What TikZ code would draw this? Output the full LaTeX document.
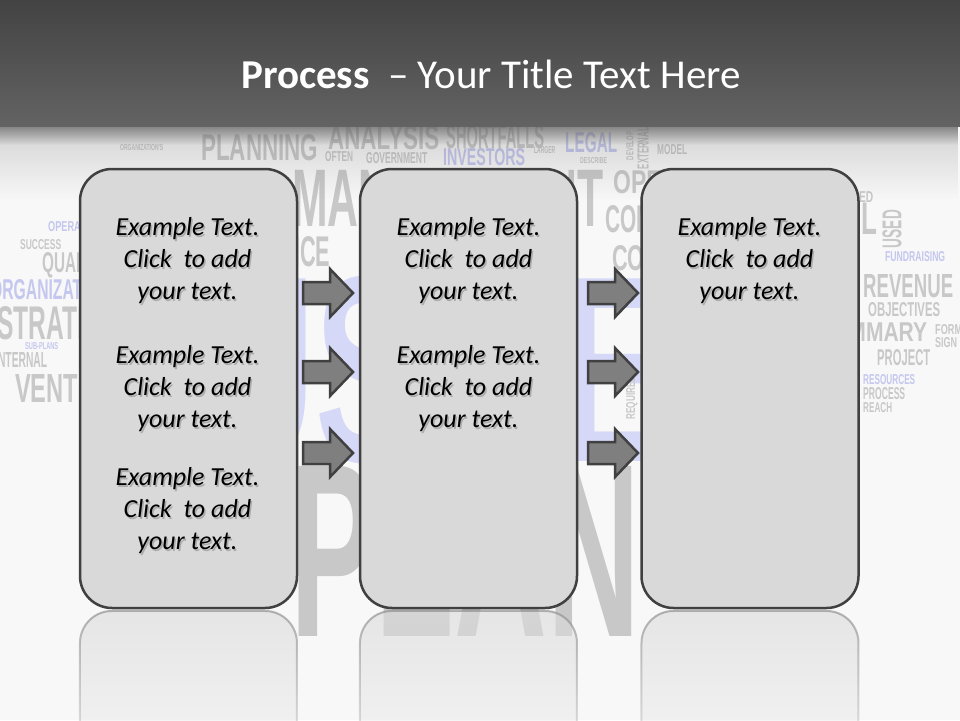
\documentclass[tikz,border=0pt]{standalone}
\usepackage{fontspec}
\setmainfont{Carlito}
\newfontfamily\cloudfont{Liberation Sans}
\usepackage{graphicx}
\usetikzlibrary{fadings}

\definecolor{hdtop}{HTML}{434343}
\definecolor{hdbot}{HTML}{636363}
\definecolor{pagebg}{HTML}{F8F8F8}
\definecolor{boxfill}{HTML}{D9D9D9}
\definecolor{boxline}{HTML}{404040}
\definecolor{arrowfill}{HTML}{7F7F7F}
\definecolor{mirrorfill}{HTML}{DCDCDC}
\definecolor{mirrorline}{HTML}{8C8C8C}
\definecolor{cloudgray}{HTML}{C8C8C8}
\definecolor{cloudblue}{HTML}{C4C7EE}
\definecolor{bigblue}{HTML}{D5D8F6}

\tikzfading[name=hdfade, top color=transparent!0, bottom color=transparent!100]
\tikzfading[name=mirrorfade, top color=transparent!35, bottom color=transparent!100]

\tikzset{
  procbox/.style={draw=boxline, line width=2.5pt, fill=boxfill, rounded corners=32pt,
    minimum width=217pt, minimum height=439pt, inner sep=0pt},
  mirrorbox/.style={draw=mirrorline, line width=2pt, fill=mirrorfill, rounded corners=32pt,
    path fading=mirrorfade},
  procarrow/.style={draw=boxline, line width=2.5pt, fill=arrowfill, line join=miter},
  boxtxt/.style={font=\fontsize{26}{32}\selectfont\itshape, align=center, inner sep=0pt},
  cloud/.style={font=\cloudfont\bfseries, inner sep=0pt, anchor=west},
}

\newcommand\sampletext{Example Text.\\Click\ \ to add\\your text.}

\begin{document}
\begin{tikzpicture}[x=1pt,y=-1pt]
  \useasboundingbox (0,0) rectangle (960,720);
  \fill[pagebg] (0,0) rectangle (960,720);

  % word cloud behind everything
  \node[cloud, text=bigblue] (bgbusiness) at (100,370) {\resizebox{760pt}{185pt}{BUSINESS}};
  \node[cloud, text=cloudgray] (bgplan) at (290,551) {\resizebox{350pt}{170pt}{PLAN}};
  \foreach \wx/\wy/\ww/\wh/\wc/\wt [count=\i] in {
      120/148/43/6/cloudgray/ORGANIZATION'S, 201/148/117/26/cloudgray/PLANNING,
      328/138/111/24/cloudgray/ANALYSIS, 446/137/98/24/cloudgray/SHORTFALLS,
      325/157/28/10/cloudgray/OFTEN, 366/158/61/11/cloudgray/GOVERNMENT,
      443/157/82/17/cloudblue/INVESTORS, 534/150/21/7/cloudgray/LARGER,
      565/143/52/20/cloudblue/LEGAL, 580/161/27/6/cloudgray/DESCRIBE,
      657/150/30/10/cloudgray/MODEL, 292/198/311/57/cloudgray/MANAGEMENT,
      160/252/170/30/cloudgray/PERFORMANCE, 613/182/150/23/cloudgray/OPERATIONS,
      605/219/105/27/cloudgray/COMPANY, 612/258/150/25/cloudgray/COMPETITION,
      48/227/60/10/cloudblue/OPERATIONS, 20/245/41/10/cloudgray/SUCCESS,
      42/265/67/20/cloudgray/QUALITY, -10/290/120/20/cloudblue/ORGANIZATION,
      -3/323/132/33/cloudgray/STRATEGY, 25/346/33/7/cloudblue/SUB-PLANS,
      -5/360/52/15/cloudgray/INTERNAL, 15/389/113/28/cloudgray/VENTURE,
      810/197/63/11/cloudgray/DEVELOPED, 737/219/140/32/cloudgray/FINANCIAL,
      885/257/60/10/cloudblue/FUNDRAISING, 863/286/90/23/cloudgray/REVENUE,
      868/310/72/14/cloudgray/OBJECTIVES, 819/332/108/19/cloudgray/SUMMARY,
      935/330/27/10/cloudgray/FORM, 935/343/22/10/cloudgray/SIGN,
      877/358/53/16/cloudgray/PROJECT, 863/380/52/10/cloudblue/RESOURCES,
      863/394/42/12/cloudgray/PROCESS, 863/408/29/10/cloudgray/REACH}
    \node[cloud, text=\wc] (cw\i) at (\wx,\wy) {\resizebox{\ww pt}{\wh pt}{\wt}};
  \node[cloud, anchor=center, rotate=90, text=cloudgray] (cwused) at (892,229) {\resizebox{38pt}{19pt}{USED}};
  \node[cloud, anchor=center, rotate=90, text=cloudgray] (cwext) at (643,148) {\resizebox{42pt}{11pt}{EXTERNAL}};
  \node[cloud, anchor=center, rotate=90, text=cloudgray] (cwdev) at (630,146) {\resizebox{28pt}{7pt}{DEVELOP}};
  \node[cloud, anchor=center, rotate=90, text=cloudgray] (cwreq) at (632,398) {\resizebox{43pt}{9pt}{REQUIRED}};

  % title band
  \fill[top color=hdtop, bottom color=hdbot] (0,0) rectangle (960,126);
  \fill[hdbot, fill opacity=.7, path fading=hdfade] (0,126) rectangle (960,145);
  \fill[hdbot, fill opacity=.25, path fading=hdfade] (0,126) rectangle (960,200);
  \node[anchor=base, text=white, font=\fontsize{41}{49}\selectfont] (title) at (491,88)
    {\textbf{Process}\ \ -- Your Title Text Here};

  % boxes and their mirror images
  \foreach \b/\cx in {b1/188.5, b2/468.5, b3/750}
    \node[procbox] (\b) at (\cx,388.5) {};
  \foreach \cx in {188.5, 468.5, 750}
    \path[mirrorbox] (\cx-108.5,800) -- (\cx-108.5,611) -- (\cx+108.5,611) -- (\cx+108.5,800);

  % block arrows
  \foreach \ax in {303, 588}
    \foreach \ay in {293, 372, 453}
      \draw[procarrow] (\ax,\ay) ++(0,-11) -- ++(27,0) -- ++(0,-13) -- ++(23,24)
        -- ++(-23,24) -- ++(0,-13) -- ++(-27,0) -- cycle;

  % texts with a soft shadow
  \foreach \n/\tx/\ty in {t11/187.5/260.5, t12/187.5/388.5, t13/187.5/510.5,
                          t21/468.5/260.5, t22/468.5/388.5, t31/749.5/260.5} {
    \node[boxtxt, text=black!55, opacity=.45] at (\tx+1.5,\ty+2.5) {\sampletext};
    \node[boxtxt] (\n) at (\tx,\ty) {\sampletext};
  }
\end{tikzpicture}
\end{document}
